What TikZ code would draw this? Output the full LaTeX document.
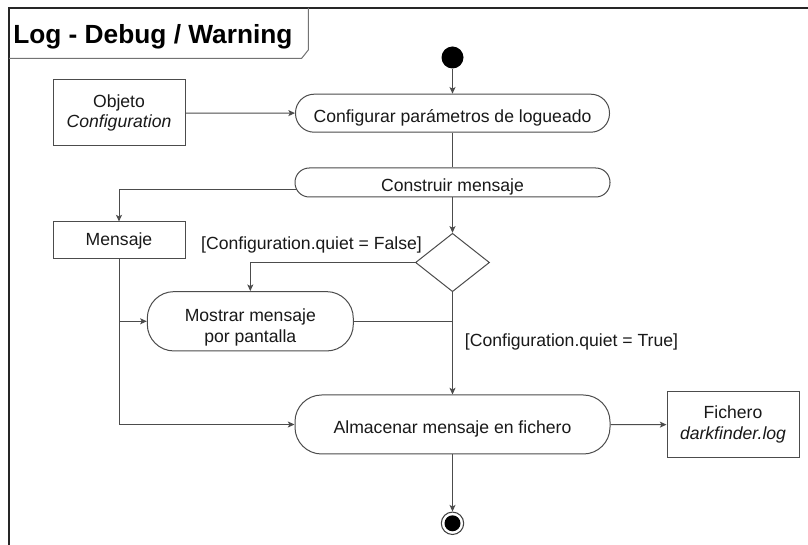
\documentclass[tikz,border=0pt]{standalone}
\usepackage{fontspec}
\setmainfont{Liberation Sans}
\usetikzlibrary{shapes.geometric,arrows.meta,calc}

\begin{document}
\begin{tikzpicture}[x=0.75pt,y=-0.75pt,
  every node/.style={text=black!90, font=\fontsize{13.2pt}{15.5pt}\selectfont},
  line/.style={draw=black!70, line width=0.75pt},
  arr/.style={line, -{Stealth[length=5pt,width=4.5pt,inset=1.2pt]}},
  box/.style={line, rectangle, minimum width=99pt, inner sep=2pt, align=center, fill=white},
  action/.style={line, rectangle, fill=white},
  actiontext/.style={align=center, inner sep=0pt},
  pseudostate/.style={circle, inner sep=0pt},
]
\useasboundingbox (0,0) rectangle (808,545);
\fill[white] (0,0) rectangle (808,545);

% diagram frame and its name tab
\draw[black!85, line width=1.5pt] (9,546) -- (9,8) -- (809,8);
\draw[black!55, line width=0.75pt] (9,58.3) -- (301.7,58.3) -- (308.3,50) -- (308.3,8);
\node[anchor=base west, inner sep=0pt, text=black,
      font=\fontsize{19.7pt}{23pt}\selectfont\bfseries] (title) at (13,43.3) {Log - Debug / Warning};

% nodes
\node[pseudostate, fill=black, minimum size=16.5pt] (start) at (452.5,57.5) {};
\node[action, rounded corners=14pt, minimum width=235.5pt, minimum height=28.5pt]
  (conf) at (452.5,113.2) {};
\node[actiontext] (confT) at ([yshift=-3.4pt]conf.center) {Configurar parámetros de logueado};
\node[box, minimum height=49.5pt] (obj) at (119,113) {Objeto\\\textit{Configuration}};
\node[action, rounded corners=10.7pt, minimum width=236.25pt, minimum height=21.75pt]
  (cons) at (452.5,182.5) {};
\node[actiontext] (consT) at ([yshift=-3pt]cons.center) {Construir mensaje};
\node[box, minimum height=27.75pt] (msg) at (119,240.5) {Mensaje};
\node[line, diamond, minimum width=55.5pt, minimum height=43.8pt, inner sep=0pt, fill=white]
  (dec) at (452.5,262.5) {};
\node[action, rounded corners=20pt, minimum width=154.5pt, minimum height=44.5pt]
  (show) at (250.3,321.3) {};
\node[actiontext] (showT) at ([yshift=-4.5pt]show.center) {Mostrar mensaje\\por pantalla};
\node[action, rounded corners=20pt, minimum width=236.25pt, minimum height=44.25pt]
  (store) at (452.5,424.5) {};
\node[actiontext] (storeT) at ([yshift=-3.4pt]store.center) {Almacenar mensaje en fichero};
\node[box, minimum height=49.5pt] (file) at (733,424.7) {Fichero\\\textit{darkfinder.log}};
\node[pseudostate, draw=black!75, line width=0.8pt, minimum size=16.8pt] (end) at (452.5,523.3) {};
\node[pseudostate, fill=black, minimum size=12pt] (endcore) at (end) {};

% guards
\node (lblF) at (311.5,245) {[Configuration.quiet = False]};
\node (lblT) at (571.5,341.7) {[Configuration.quiet = True]};

% flows
\draw[arr] (start) -- (conf);
\draw[arr] (obj) -- (conf);
\draw[line] (conf) -- (cons);
\coordinate (consout) at ($(cons.west)+(2,7.5)$);
\draw[arr] (consout) -| (msg.north);
\draw[arr] (cons) -- (dec);
\draw[arr] (dec.west) -| (show.north);
\draw[arr] (msg.south) |- (store.west);
\draw[arr] (msg.south |- show.west) -- (show.west);
\draw[line] (show.east) -- (show.east -| dec.south);
\draw[arr] (dec.south) -- (store.north);
\draw[arr] (store) -- (file);
\draw[arr] (store) -- (end);
\end{tikzpicture}
\end{document}
